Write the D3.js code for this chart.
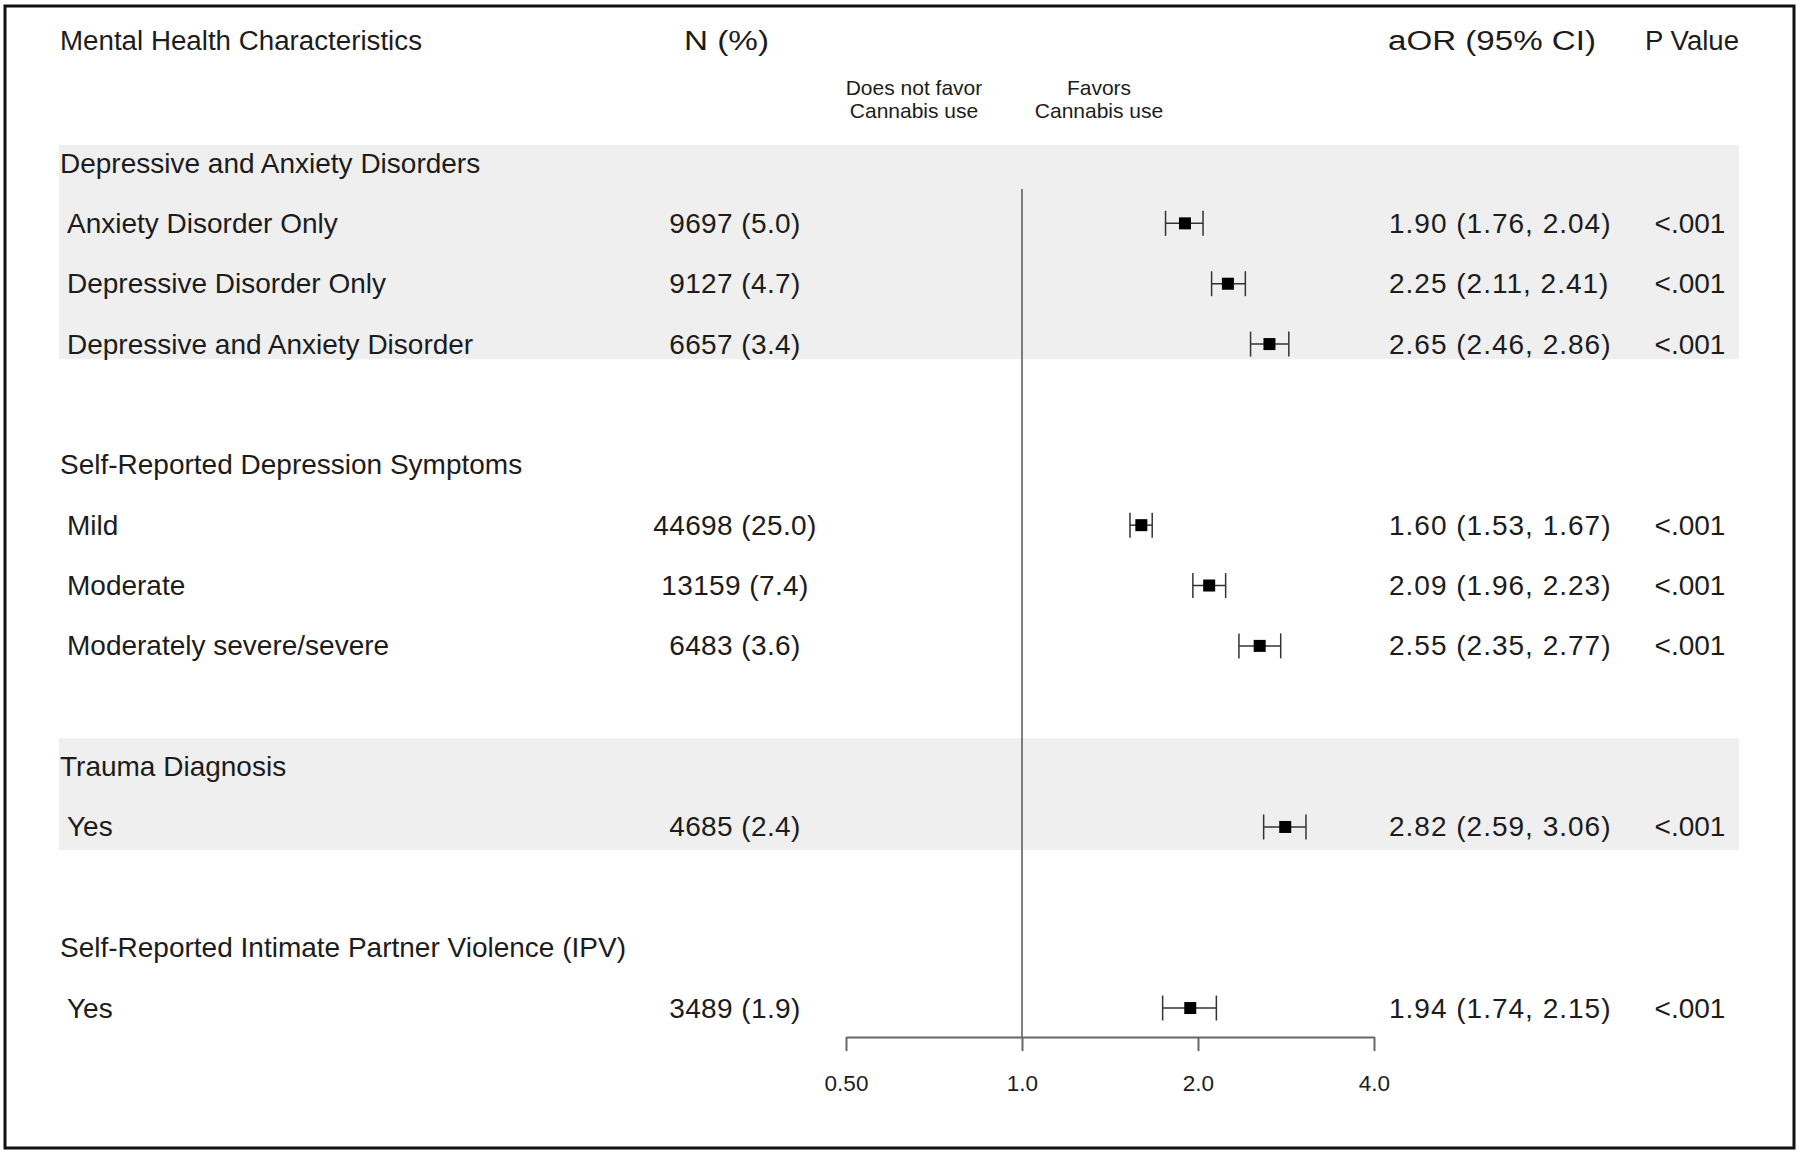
<!DOCTYPE html>
<html>
<head>
<meta charset="utf-8">
<script src="https://cdn.jsdelivr.net/npm/d3@7"></script>
<style>
  html, body { margin: 0; padding: 0; background: #fff; }
  svg { display: block; }
  text { font-family: "Liberation Sans", Arial, sans-serif; fill: #1c1c1c; }
</style>
</head>
<body>
<svg id="chart" width="1800" height="1155"></svg>
<script>
// ---- data ----
const headers = ["Mental Health Characteristics", "N (%)", "aOR (95% CI)", "P Value"];
const favorLabels = [["Does not favor", "Cannabis use"], ["Favors", "Cannabis use"]];
const rowLabels = [
  "Depressive and Anxiety Disorders",
  "Anxiety Disorder Only",
  "Depressive Disorder Only",
  "Depressive and Anxiety Disorder",
  null,
  "Self-Reported Depression Symptoms",
  "Mild",
  "Moderate",
  "Moderately severe/severe",
  null,
  "Trauma Diagnosis",
  "Yes",
  null,
  "Self-Reported Intimate Partner Violence (IPV)",
  "Yes"
];
const rowTypes = ["section","item","item","item",null,"section","item","item","item",null,"section","item",null,"section","item"];
const nText   = [null,"9697 (5.0)","9127 (4.7)","6657 (3.4)",null,null,"44698 (25.0)","13159 (7.4)","6483 (3.6)",null,null,"4685 (2.4)",null,null,"3489 (1.9)"];
const aor     = [null,1.90,2.25,2.65,null,null,1.60,2.09,2.55,null,null,2.82,null,null,1.94];
const ciLow   = [null,1.76,2.11,2.46,null,null,1.53,1.96,2.35,null,null,2.59,null,null,1.74];
const ciHigh  = [null,2.04,2.41,2.86,null,null,1.67,2.23,2.77,null,null,3.06,null,null,2.15];
const pText   = [null,"<.001","<.001","<.001",null,null,"<.001","<.001","<.001",null,null,"<.001",null,null,"<.001"];
const tickValues = [0.5, 1, 2, 4];
const tickLabels = ["0.50", "1.0", "2.0", "4.0"];
const bandRows = [[0, 3], [10, 11]];

// ---- layout ----
const svg = d3.select("#chart");
const row0 = 163, rowStep = 60.36;
const y = i => row0 + i * rowStep;
const x = d3.scaleLog().base(2).domain([0.5, 4]).range([846, 1374]);
const axisY = 1037;
const fs = 28;

// border
svg.append("rect").attr("x", 5).attr("y", 6).attr("width", 1789).attr("height", 1142)
  .attr("fill", "none").attr("stroke", "#111").attr("stroke-width", 3);

// bands
const bandPad = [[-0.3, 3.25], [9.53, 11.38]];
svg.selectAll("rect.band").data(bandRows).join("rect").attr("class", "band")
  .attr("x", 59).attr("width", 1739 - 59)
  .attr("y", (d, i) => row0 + bandPad[i][0] * rowStep)
  .attr("height", (d, i) => (bandPad[i][1] - bandPad[i][0]) * rowStep)
  .attr("fill", "#efefef");

// headers
const hy = 41;
const headX = [60, 684, 1388, 1645];
const headW = [362, 85, 208, 94];
headers.forEach((h, i) => {
  svg.append("text").attr("x", headX[i]).attr("y", hy).attr("dominant-baseline", "central")
    .attr("font-size", fs - 1).attr("textLength", headW[i]).attr("lengthAdjust", "spacingAndGlyphs").text(h);
});

// favor labels
const favX = [914, 1099];
favorLabels.forEach((lines, i) => {
  lines.forEach((t, j) => {
    svg.append("text").attr("x", favX[i]).attr("y", 87 + j * 23).attr("text-anchor", "middle")
      .attr("dominant-baseline", "central").attr("font-size", 21).text(t);
  });
});

// reference line at 1
svg.append("line").attr("x1", x(1)).attr("x2", x(1)).attr("y1", 189).attr("y2", axisY)
  .attr("stroke", "#555").attr("stroke-width", 1.5);

// row labels
rowLabels.forEach((lab, i) => {
  if (!lab) return;
  svg.append("text").attr("x", rowTypes[i] === "section" ? 60 : 67).attr("y", y(i))
    .attr("dominant-baseline", "central").attr("font-size", fs).text(lab);
});
nText.forEach((t, i) => {
  if (!t) return;
  svg.append("text").attr("x", 735).attr("y", y(i)).attr("text-anchor", "middle")
    .attr("dominant-baseline", "central").attr("font-size", fs).attr("letter-spacing", 0.4).text(t);
});
aor.forEach((v, i) => {
  if (v == null) return;
  svg.append("text").attr("x", 1389).attr("y", y(i)).attr("dominant-baseline", "central")
    .attr("font-size", fs).attr("letter-spacing", 1)
    .text(`${v.toFixed(2)} (${ciLow[i].toFixed(2)}, ${ciHigh[i].toFixed(2)})`);
});
pText.forEach((t, i) => {
  if (!t) return;
  svg.append("text").attr("x", 1690).attr("y", y(i)).attr("text-anchor", "middle")
    .attr("dominant-baseline", "central").attr("font-size", fs).text(t);
});

// error bars + squares
const pts = aor.map((v, i) => ({ v, lo: ciLow[i], hi: ciHigh[i], i })).filter(d => d.v != null);
const g = svg.append("g");
const capH = 12.5, sq = 12;
pts.forEach(d => {
  const cy = y(d.i);
  g.append("line").attr("x1", x(d.lo)).attr("x2", x(d.hi)).attr("y1", cy).attr("y2", cy)
    .attr("stroke", "#333").attr("stroke-width", 1.5);
  [d.lo, d.hi].forEach(c => g.append("line").attr("x1", x(c)).attr("x2", x(c))
    .attr("y1", cy - capH).attr("y2", cy + capH).attr("stroke", "#333").attr("stroke-width", 1.5));
  g.append("rect").attr("x", x(d.v) - sq / 2).attr("y", cy - sq / 2).attr("width", sq).attr("height", sq)
    .attr("fill", "#000");
});

// axis
const axis = d3.axisBottom(x).tickValues(tickValues).tickFormat((d, i) => tickLabels[i])
  .tickSize(14).tickSizeOuter(0).tickPadding(24);
const ag = svg.append("g").attr("transform", `translate(0,${axisY})`).call(axis);
ag.select(".domain").attr("stroke", "#666").attr("stroke-width", 2.2);
ag.selectAll(".tick line").attr("stroke", "#666").attr("stroke-width", 2);
ag.selectAll(".tick text").attr("font-size", 22.5).attr("fill", "#1c1c1c")
  .attr("font-family", "'Liberation Sans', Arial, sans-serif");
</script>
</body>
</html>
